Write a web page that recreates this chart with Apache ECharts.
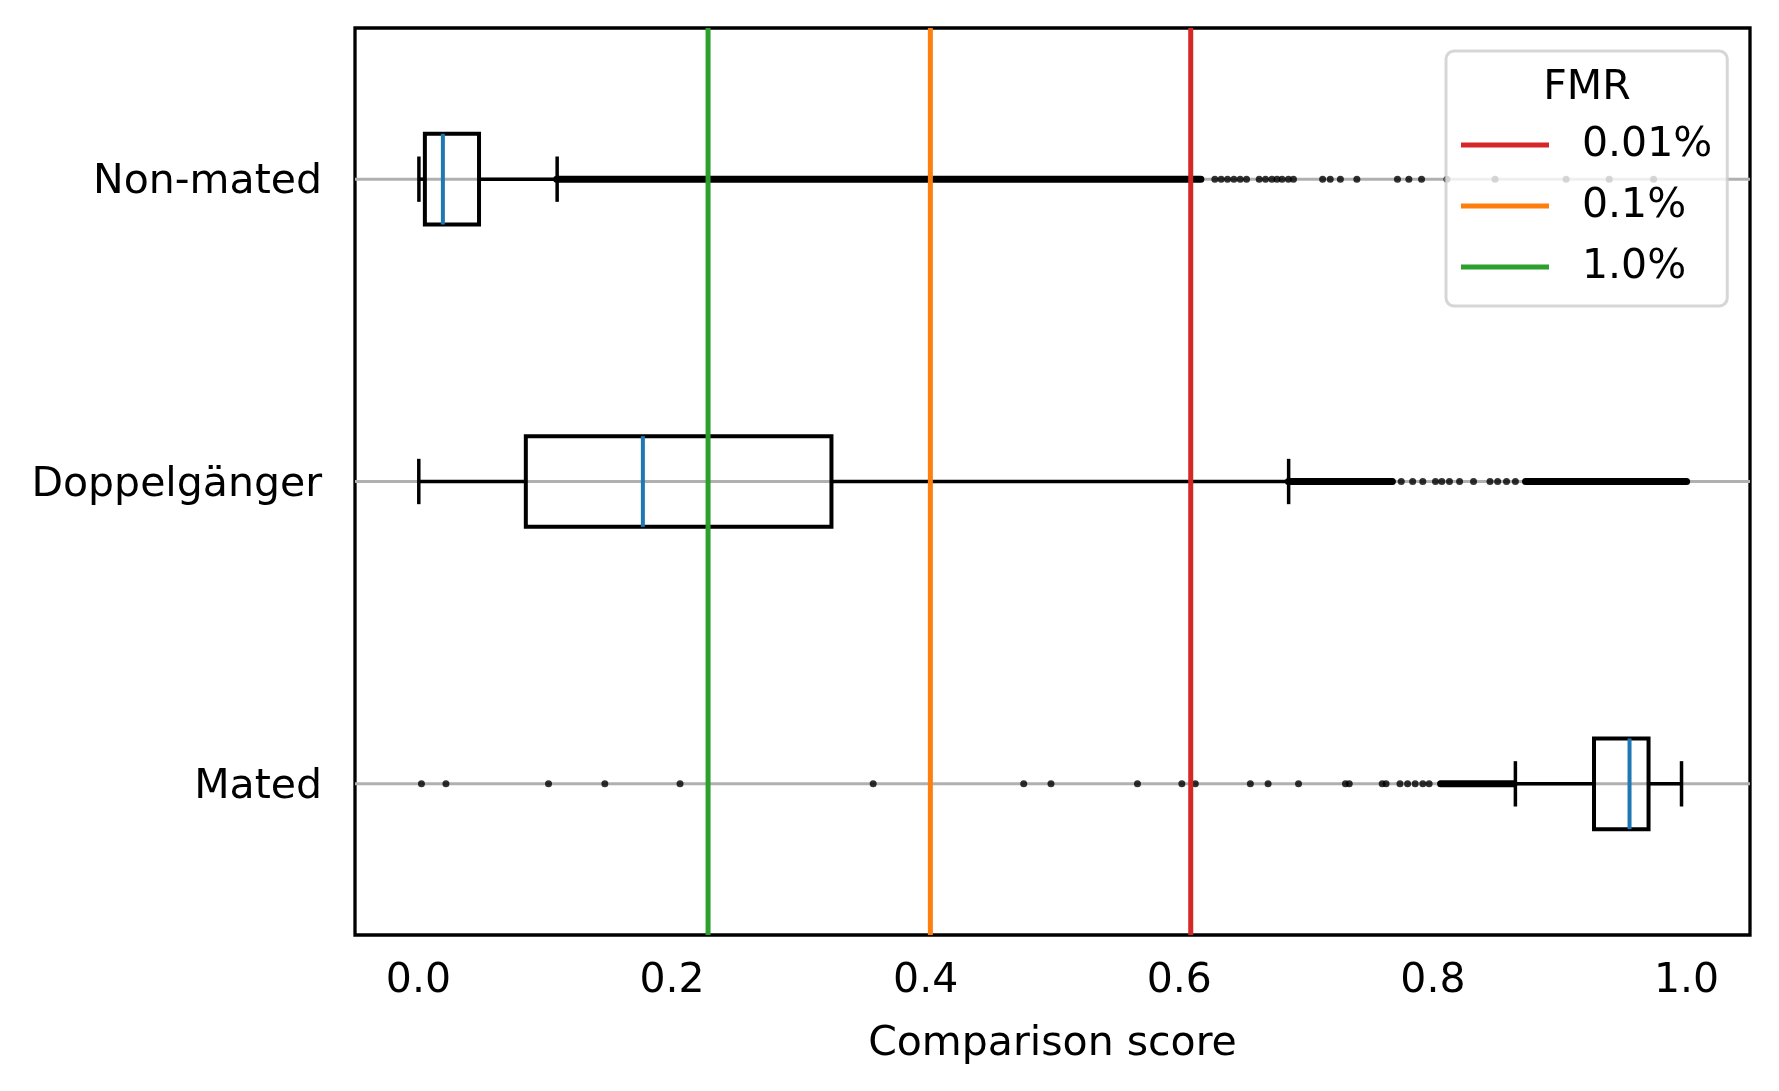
<!DOCTYPE html>
<html>
<head>
<meta charset="utf-8">
<title>Comparison score boxplot</title>
<script src="https://cdn.jsdelivr.net/npm/echarts@6.0.0/dist/echarts.min.js"></script>
<style>
  html, body { margin: 0; padding: 0; background: #fff; }
  #main { width: 1779px; height: 1091px; }
</style>
</head>
<body>
<div id="main"></div>
<script>
// categories, bottom to top
const categories = ['Mated', 'Doppelgänger', 'Non-mated'];

// box statistics per category (same order as categories)
const lowWhisker = [0.865, 0.0003, 0.0004];
const q1 = [0.927, 0.0847, 0.0051];
const median = [0.955, 0.177, 0.0193];
const q3 = [0.970, 0.3257, 0.0478];
const highWhisker = [0.996, 0.6862, 0.1094];

// single outliers (fliers)
const matedOutliers = [0.0024, 0.0217, 0.1026, 0.147, 0.2063, 0.3586, 0.4773, 0.4988, 0.567, 0.602,
  0.6126, 0.656, 0.670, 0.694, 0.731, 0.734, 0.760, 0.763, 0.774, 0.780, 0.786, 0.792, 0.797];
const doppelOutliers = [0.775, 0.784, 0.792, 0.802, 0.807, 0.813, 0.821, 0.832, 0.845, 0.851, 0.858, 0.865];
const nonMatedOutliers = [0.628, 0.633, 0.638, 0.643, 0.648, 0.653, 0.663, 0.668, 0.673, 0.677, 0.681,
  0.686, 0.690, 0.713, 0.719, 0.727, 0.740, 0.772, 0.781, 0.791, 0.811, 0.849, 0.905, 0.939, 0.974];

// ranges where the fliers are so dense they merge into a band [from, to]
const matedDense = [[0.806, 0.864]];
const doppelDense = [[0.686, 0.768], [0.873, 1.0]];
const nonMatedDense = [[0.109, 0.617]];

// FMR thresholds
const thresholdNames = ['0.01%', '0.1%', '1.0%'];
const thresholdValues = [0.609, 0.4037, 0.2284];
const thresholdColors = ['#d62728', '#ff7f0e', '#2ca02c'];

const xTicks = [0, 0.2, 0.4, 0.6, 0.8, 1.0];

const FONT = 'DejaVu Sans';
const FS = 41;

const chart = echarts.init(document.getElementById('main'));

const boxData = categories.map((c, i) => [i, lowWhisker[i], q1[i], median[i], q3[i], highWhisker[i]]);

const outlierData = []
  .concat(matedOutliers.map(v => [v, 0]))
  .concat(doppelOutliers.map(v => [v, 1]))
  .concat(nonMatedOutliers.map(v => [v, 2]));

const denseData = []
  .concat(matedDense.map(r => [0, r[0], r[1]]))
  .concat(doppelDense.map(r => [1, r[0], r[1]]))
  .concat(nonMatedDense.map(r => [2, r[0], r[1]]));

const series = [
  // grey grid lines through the category centres
  {
    type: 'custom',
    z: 1,
    silent: true,
    encode: { y: 0 },
    data: categories.map((c, i) => [i]),
    renderItem(params, api) {
      const cs = params.coordSys;
      const y = api.coord([0, api.value(0)])[1];
      return {
        type: 'line',
        shape: { x1: cs.x, y1: y, x2: cs.x + cs.width, y2: y },
        style: { stroke: '#b0b0b0', lineWidth: 3 }
      };
    }
  },
  // dense flier bands
  {
    type: 'custom',
    z: 2,
    silent: true,
    encode: { y: 0, x: [1, 2] },
    data: denseData,
    renderItem(params, api) {
      const c = api.value(0);
      const p1 = api.coord([api.value(1), c]);
      const p2 = api.coord([api.value(2), c]);
      return {
        type: 'line',
        shape: { x1: p1[0], y1: p1[1], x2: p2[0], y2: p2[1] },
        style: { stroke: '#000', lineWidth: 7, lineCap: 'round' }
      };
    }
  },
  // single fliers
  {
    type: 'scatter',
    z: 2,
    silent: true,
    symbolSize: 7,
    itemStyle: { color: '#000' },
    data: outlierData
  },
  // boxes, whiskers, caps and medians
  {
    type: 'custom',
    z: 3,
    silent: true,
    encode: { y: 0, x: [1, 2, 3, 4, 5] },
    data: boxData,
    renderItem(params, api) {
      const c = api.value(0);
      const yc = api.coord([api.value(3), c])[1];
      const band = api.size([0, 1])[1];
      const boxH = band * 0.3;
      const capH = band * 0.15;
      const xLow = api.coord([api.value(1), c])[0];
      const xQ1 = api.coord([api.value(2), c])[0];
      const xMed = api.coord([api.value(3), c])[0];
      const xQ3 = api.coord([api.value(4), c])[0];
      const xHigh = api.coord([api.value(5), c])[0];
      const black = { stroke: '#000', lineWidth: 3.5 };
      return {
        type: 'group',
        children: [
          { type: 'line', shape: { x1: xLow, y1: yc, x2: xQ1, y2: yc }, style: black },
          { type: 'line', shape: { x1: xQ3, y1: yc, x2: xHigh, y2: yc }, style: black },
          { type: 'line', shape: { x1: xLow, y1: yc - capH / 2, x2: xLow, y2: yc + capH / 2 }, style: black },
          { type: 'line', shape: { x1: xHigh, y1: yc - capH / 2, x2: xHigh, y2: yc + capH / 2 }, style: black },
          {
            type: 'rect',
            shape: { x: xQ1, y: yc - boxH / 2, width: xQ3 - xQ1, height: boxH },
            style: { fill: 'none', stroke: '#000', lineWidth: 4 }
          },
          {
            type: 'line',
            shape: { x1: xMed, y1: yc - boxH / 2, x2: xMed, y2: yc + boxH / 2 },
            style: { stroke: '#1f77b4', lineWidth: 4 }
          }
        ]
      };
    }
  }
];

// vertical FMR threshold lines
thresholdNames.forEach((name, i) => {
  series.push({
    name: name,
    type: 'custom',
    z: 5,
    silent: true,
    itemStyle: { color: thresholdColors[i] },
    encode: { x: 0 },
    data: [[thresholdValues[i]]],
    renderItem(params, api) {
      const cs = params.coordSys;
      const x = api.coord([api.value(0), 0])[0];
      return {
        type: 'line',
        shape: { x1: x, y1: cs.y, x2: x, y2: cs.y + cs.height },
        style: { stroke: api.visual('color'), lineWidth: 5 }
      };
    }
  });
});

const option = {
  animation: false,
  backgroundColor: '#fff',
  textStyle: { fontFamily: FONT },
  grid: {
    left: 355,
    right: 29,
    top: 28,
    bottom: 156,
    show: true,
    borderColor: '#000',
    borderWidth: 3.3,
    backgroundColor: 'transparent'
  },
  xAxis: {
    type: 'value',
    min: -0.05,
    max: 1.05,
    name: 'Comparison score',
    nameLocation: 'middle',
    nameGap: 89,
    nameTextStyle: { fontFamily: FONT, fontSize: FS, color: '#000' },
    axisLine: { show: false },
    axisTick: { show: false },
    splitLine: { show: false },
    axisLabel: {
      customValues: xTicks,
      formatter: v => v.toFixed(1),
      fontFamily: FONT,
      fontSize: FS,
      color: '#000',
      margin: 26
    }
  },
  yAxis: {
    type: 'category',
    data: categories,
    axisLine: { show: false },
    axisTick: { show: false },
    splitLine: { show: false },
    axisLabel: {
      fontFamily: FONT,
      fontSize: FS,
      color: '#000',
      margin: 33,
      // nudge the labels a few pixels down onto the grid lines
      verticalAlign: 'top',
      lineHeight: 7
    }
  },
  legend: {
    data: thresholdNames,
    orient: 'vertical',
    left: 1446,
    top: 51,
    z: 10,
    padding: [67, 15, 12, 15],
    itemWidth: 88,
    itemHeight: 5,
    itemGap: 7,
    icon: 'rect',
    selectedMode: false,
    backgroundColor: 'rgba(255,255,255,0.8)',
    borderColor: 'rgba(204,204,204,0.8)',
    borderWidth: 3,
    borderRadius: 8,
    textStyle: {
      fontFamily: FONT,
      fontSize: FS,
      lineHeight: FS,
      color: '#000',
      padding: [13, 0, 0, 28]
    }
  },
  graphic: [
    {
      type: 'text',
      x: 1587,
      y: 88.5,
      z: 100,
      silent: true,
      style: {
        text: 'FMR',
        font: FS + 'px "' + FONT + '"',
        fill: '#000',
        align: 'center',
        verticalAlign: 'middle'
      }
    }
  ],
  series
};

chart.setOption(option);
</script>
</body>
</html>
